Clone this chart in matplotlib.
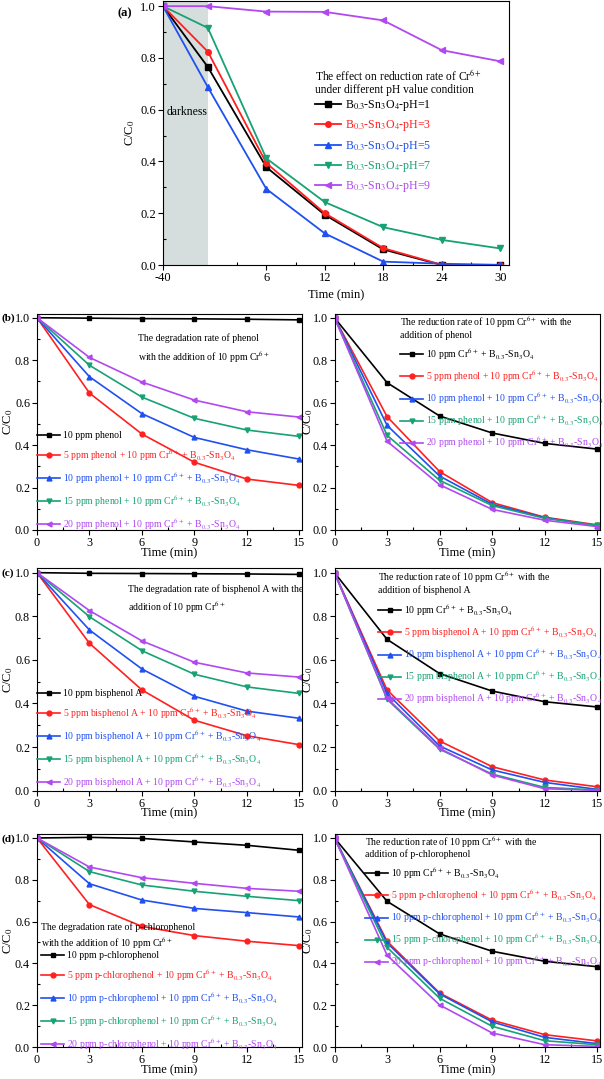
import numpy as np
import matplotlib
matplotlib.use("Agg")
import matplotlib.pyplot as plt
from matplotlib.ticker import FormatStrFormatter, MultipleLocator

plt.rcParams['font.family'] = ['Liberation Serif', 'DejaVu Serif']
plt.rcParams['mathtext.fontset'] = 'stix'

W, H = 604, 1079
COLORS = ['#000000', '#ff2020', '#2050f0', '#17a275', '#b148f0']
MARKERS = ['s', 'o', '^', 'v', '<']
SHADE = '#d5dedc'

# panel (a): reduction of Cr6+ at different pH
time_a = [-40, 0, 6, 12, 18, 24, 30]
ph1 = [1.0, 0.765, 0.378, 0.194, 0.060, 0.0, 0.0]
ph3 = [1.0, 0.824, 0.394, 0.200, 0.065, 0.001, 0.001]
ph5 = [1.0, 0.687, 0.294, 0.122, 0.013, 0.005, 0.0]
ph7 = [1.0, 0.916, 0.412, 0.243, 0.146, 0.097, 0.064]
ph9 = [1.0, 1.0, 0.979, 0.978, 0.945, 0.830, 0.787]
ph_labels = [r'B$_{0.3}$-Sn$_3$O$_4$-pH=%d' % p for p in (1, 3, 5, 7, 9)]

time = [0, 3, 6, 9, 12, 15]

# panel (b): phenol
phenol_left = [
    [1.0, 0.998, 0.996, 0.995, 0.993, 0.990],
    [1.0, 0.645, 0.452, 0.319, 0.240, 0.210],
    [1.0, 0.722, 0.548, 0.436, 0.378, 0.334],
    [1.0, 0.776, 0.626, 0.526, 0.471, 0.441],
    [1.0, 0.813, 0.697, 0.612, 0.557, 0.532],
]
phenol_right = [
    [1.0, 0.694, 0.537, 0.457, 0.408, 0.381],
    [1.0, 0.534, 0.275, 0.129, 0.060, 0.024],
    [1.0, 0.493, 0.254, 0.121, 0.058, 0.020],
    [1.0, 0.446, 0.234, 0.115, 0.055, 0.022],
    [1.0, 0.418, 0.213, 0.097, 0.046, 0.016],
]

# panel (c): bisphenol A
bpa_left = [
    [1.0, 0.997, 0.996, 0.995, 0.994, 0.992],
    [1.0, 0.676, 0.462, 0.323, 0.252, 0.211],
    [1.0, 0.737, 0.558, 0.433, 0.365, 0.332],
    [1.0, 0.798, 0.642, 0.534, 0.476, 0.446],
    [1.0, 0.826, 0.687, 0.589, 0.540, 0.521],
]
bpa_right = [
    [1.0, 0.694, 0.537, 0.457, 0.408, 0.384],
    [1.0, 0.462, 0.228, 0.110, 0.049, 0.018],
    [1.0, 0.446, 0.205, 0.095, 0.038, 0.006],
    [1.0, 0.419, 0.190, 0.076, 0.015, 0.003],
    [1.0, 0.424, 0.194, 0.072, 0.009, 0.002],
]

# panel (d): p-chlorophenol
pcp_left = [
    [1.0, 1.003, 0.998, 0.981, 0.965, 0.941],
    [1.0, 0.681, 0.577, 0.533, 0.506, 0.485],
    [1.0, 0.781, 0.703, 0.663, 0.643, 0.622],
    [1.0, 0.839, 0.775, 0.745, 0.721, 0.700],
    [1.0, 0.861, 0.810, 0.783, 0.759, 0.745],
]
pcp_right = [
    [1.0, 0.697, 0.541, 0.458, 0.410, 0.384],
    [1.0, 0.506, 0.258, 0.128, 0.059, 0.029],
    [1.0, 0.498, 0.254, 0.120, 0.046, 0.016],
    [1.0, 0.477, 0.233, 0.099, 0.030, 0.011],
    [1.0, 0.439, 0.201, 0.067, 0.011, 0.003],
]

CAT = r'B$_{0.3}$-Sn$_3$O$_4$'
CR = r'10 ppm Cr$^{6+}$'


def mix_labels(name):
    return ['%d ppm %s + %s + %s' % (c, name, CR, CAT) for c in (5, 10, 15, 20)]


fig = plt.figure(figsize=(W / 100, H / 100), dpi=100)


def axes_px(left, top, right, bottom):
    return fig.add_axes([left / W, 1 - bottom / H, (right - left) / W, (bottom - top) / H])


def ftext(x, y, s, size=7.5, **kw):
    fig.text(x / W, 1 - y / H, s, fontsize=size, va='center', ha='left', **kw)


def style_axes(ax, box, ylab_x, xlab_y, tick_size=9):
    left, top, right, bottom = box
    ax.tick_params(which='major', direction='out', length=3.5, width=0.8, pad=1.5,
                   labelsize=tick_size)
    ax.tick_params(which='minor', direction='in', length=2.5, width=0.8)
    ax.set_ylim(0, 1.02)
    ax.yaxis.set_major_locator(MultipleLocator(0.2))
    ax.yaxis.set_minor_locator(MultipleLocator(0.1))
    ax.yaxis.set_major_formatter(FormatStrFormatter('%.1f'))
    ax.set_ylabel(r'C/C$_0$', fontsize=9)
    ax.set_xlabel('Time (min)', fontsize=9)
    # ylab_x is the right edge of the rotated label, xlab_y the top of the time label
    ax.yaxis.set_label_coords((ylab_x - left) / (right - left), 0.5)
    ax.xaxis.set_label_coords(0.5, -(xlab_y - bottom) / (bottom - top))
    for sp in ax.spines.values():
        sp.set_linewidth(0.8)


def add_legend(ax, handles, labels, x, y, size=7, spacing=0.75, hl=2.4):
    leg = ax.legend(handles, labels, loc='upper left', bbox_to_anchor=(x / W, 1 - y / H),
                    bbox_transform=fig.transFigure, frameon=False, fontsize=size,
                    borderpad=0, borderaxespad=0, handlelength=hl, handletextpad=0.3,
                    labelspacing=spacing)
    for txt, c in zip(leg.get_texts(), COLORS):
        txt.set_color(c)


# ---- panel (a) ----
DARK = 4.6 / 40.0


def fwd(x):
    x = np.asarray(x, dtype=float)
    return np.where(x < 0, x * DARK, x)


def inv(y):
    y = np.asarray(y, dtype=float)
    return np.where(y < 0, y / DARK, y)


box_a = (163, 1, 509, 265)
ax = axes_px(*box_a)
ax.set_xscale('function', functions=(fwd, inv))
ax.axvspan(-40, 0, color=SHADE, zorder=0, lw=0)
lines = []
for vals, c, m in zip([ph1, ph3, ph5, ph7, ph9], COLORS, MARKERS):
    ln, = ax.plot(time_a, vals, color=c, marker=m, ms=4, lw=1.3)
    lines.append(ln)
ax.set_xlim(-40, 30.9)
ax.set_xticks([-40, 6, 12, 18, 24, 30])
ax.set_xticks([3, 9, 15, 21, 27], minor=True)
ax.set_xticklabels(['-40', '6', '12', '18', '24', '30'])
style_axes(ax, box_a, 137, 289)
ax.text(0.01, 0.58, 'darkness', transform=ax.transAxes, fontsize=8.5, va='center')
ftext(315, 75, r'The effect on reduction rate of Cr$^{6+}$', size=8.3)
ftext(315, 90, 'under different pH value condition', size=8.3)
add_legend(ax, lines, ph_labels, 315, 98, size=8.6, spacing=0.45, hl=2.2)
ftext(117, 13, '(a)', size=9, weight='bold')

# ---- lower panels ----
rows = [
    (313.5, 530, 'phenol', phenol_left, phenol_right, '(b)'),
    (568.3, 790.7, 'bisphenol A', bpa_left, bpa_right, '(c)'),
    (833.8, 1047, 'p-chlorophenol', pcp_left, pcp_right, '(d)'),
]
lead_titles = [
    ('The degradation rate of phenol', r'with the addition of 10 ppm Cr$^{6+}$', 138, 338, 357),
    ('The degradation rate of bisphenol A with the', r'addition of 10 ppm Cr$^{6+}$', 128, 589, 607),
    ('The degradation rate of p-chlorophenol', r'with the addition of 10 ppm Cr$^{6+}$', 41, 927, 943),
]
right_titles = [
    (r'The reduction rate of 10 ppm Cr$^{6+}$ with the', 'addition of phenol', 400, 322, 335),
    (r'The reduction rate of 10 ppm Cr$^{6+}$ with the', 'addition of bisphenol A', 378, 577, 590),
    (r'The reduction rate of 10 ppm Cr$^{6+}$ with the', 'addition of p-chlorophenol', 365, 842, 854),
]
left_legend_pos = [(37, 431), (37, 689), (41, 951)]
right_legend_pos = [(400, 346), (378, 602), (365, 865)]
label_pos = [(1, 318), (1, 573), (1, 839)]

for i, (top, bottom, name, left_data, right_data, tag) in enumerate(rows):
    for side in ('left', 'right'):
        if side == 'left':
            box = (37, top, 302, bottom)
            data = left_data
            labels = ['10 ppm %s' % name] + mix_labels(name)
            ylab_x = 15
            spacing = 0.75
        else:
            box = (334.5, top, 600, bottom)
            data = right_data
            labels = ['%s + %s' % (CR, CAT)] + mix_labels(name)
            ylab_x = 315
            spacing = 0.68
        ax = axes_px(*box)
        lines = []
        for vals, c, m in zip(data, COLORS, MARKERS):
            ln, = ax.plot(time, vals, color=c, marker=m, ms=3.5, lw=1.2)
            lines.append(ln)
        ax.set_xlim(0, 15.15)
        ax.xaxis.set_major_locator(MultipleLocator(3))
        ax.xaxis.set_minor_locator(MultipleLocator(1.5))
        style_axes(ax, box, ylab_x, bottom + 17, tick_size=8.7)
        if side == 'left':
            t1, t2, tx, ty1, ty2 = lead_titles[i]
            lx, ly = left_legend_pos[i]
        else:
            t1, t2, tx, ty1, ty2 = right_titles[i]
            lx, ly = right_legend_pos[i]
        ftext(tx, ty1, t1, size=7)
        ftext(tx, ty2, t2, size=7)
        add_legend(ax, lines, labels, lx, ly, size=7, spacing=spacing)
    ftext(label_pos[i][0], label_pos[i][1], tag, size=8, weight='bold')

fig.savefig('out.png', dpi=100)
